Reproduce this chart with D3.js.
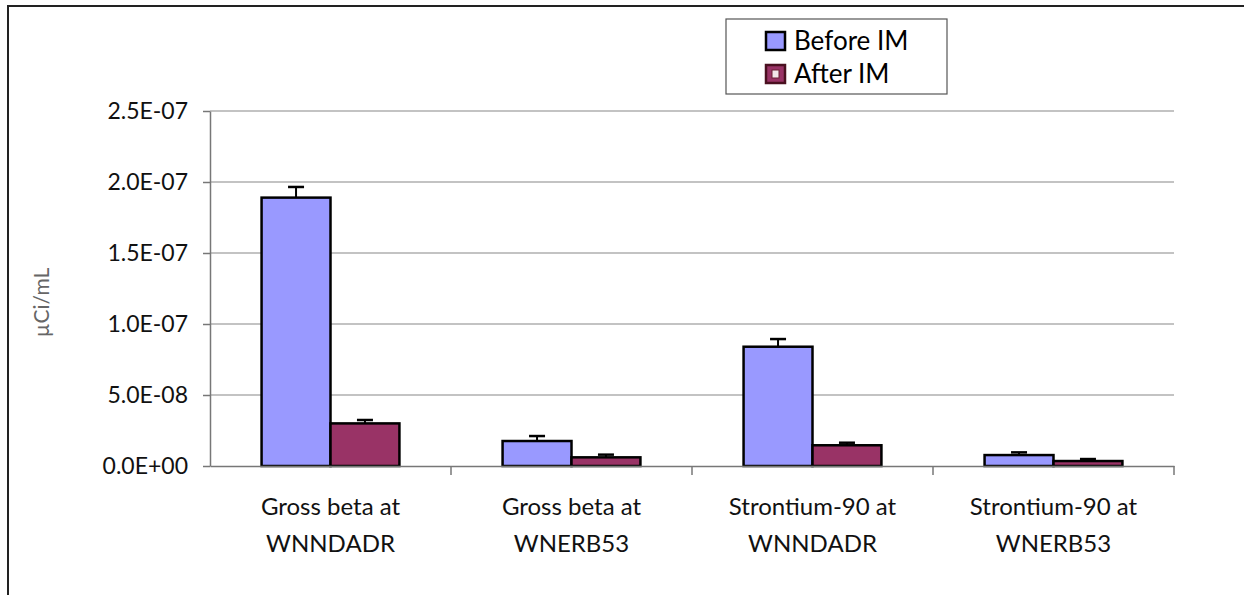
<!DOCTYPE html>
<html>
<head>
<meta charset="utf-8">
<script src="https://cdn.jsdelivr.net/npm/d3@7"></script>
<style>
  body { margin: 0; background: #fff; }
  text { font-family: Lato, "Noto Sans", sans-serif; }
</style>
</head>
<body>
<div id="chart"></div>
<script>
// data
var categories = ["Gross beta at\nWNNDADR", "Gross beta at\nWNERB53", "Strontium-90 at\nWNNDADR", "Strontium-90 at\nWNERB53"];
var seriesNames = ["Before IM", "After IM"];
var beforeValues = [1.89e-7, 1.76e-8, 8.4e-8, 7.7e-9];
var beforeErrors = [7.5e-9, 3.5e-9, 5.4e-9, 1.9e-9];
var afterValues = [3.0e-8, 6.1e-9, 1.46e-8, 3.5e-9];
var afterErrors = [2.4e-9, 1.9e-9, 1.8e-9, 1.4e-9];
var yTicks = [0, 5e-8, 1e-7, 1.5e-7, 2e-7, 2.5e-7];
var yTickLabels = ["0.0E+00", "5.0E-08", "1.0E-07", "1.5E-07", "2.0E-07", "2.5E-07"];

var W = 1244, H = 595;
var margin = {top: 111, right: 70, bottom: 129, left: 210},
    width = W - margin.left - margin.right,
    height = H - margin.top - margin.bottom;

var svg = d3.select("#chart")
  .append("svg")
    .attr("width", W)
    .attr("height", H);

// outer frame (runs off the right and bottom edges)
svg.append("path")
  .attr("d", "M8," + (H + 10) + " L8,6 L" + (W + 10) + ",6")
  .attr("fill", "none")
  .attr("stroke", "#222")
  .attr("stroke-width", 2);

var g = svg.append("g")
  .attr("transform", "translate(" + margin.left + "," + margin.top + ")");

var x = d3.scaleBand()
  .domain(categories)
  .range([0, width]);

var xSub = d3.scaleBand()
  .domain(seriesNames)
  .range([x.bandwidth() * 0.214, x.bandwidth() * 0.786]);

var y = d3.scaleLinear()
  .domain([0, 2.5e-7])
  .range([height, 0]);

var color = d3.scaleOrdinal()
  .domain(seriesNames)
  .range(["#9999FF", "#993366"]);

// gridlines
g.append("g")
  .selectAll("line")
  .data(yTicks.slice(1))
  .enter().append("line")
    .attr("x1", 0)
    .attr("x2", width)
    .attr("y1", function(d) { return y(d); })
    .attr("y2", function(d) { return y(d); })
    .attr("stroke", "#888")
    .attr("stroke-width", 1.2);

// Y axis
var yAxis = g.append("g")
  .call(d3.axisLeft(y)
    .tickValues(yTicks)
    .tickFormat(function(d, i) { return yTickLabels[i]; })
    .tickSize(7)
    .tickSizeOuter(0)
    .tickPadding(15));
yAxis.select(".domain").attr("stroke", "#777").attr("stroke-width", 1.5);
yAxis.selectAll(".tick line").attr("stroke", "#777").attr("stroke-width", 1.5);
yAxis.selectAll("text")
  .attr("font-size", 23)
  .attr("fill", "#111")
  .style("font-family", "Lato, sans-serif");

// bars
var rows = [];
categories.forEach(function(c, i) {
  rows.push({cat: c, series: "Before IM", value: beforeValues[i], err: beforeErrors[i]});
  rows.push({cat: c, series: "After IM", value: afterValues[i], err: afterErrors[i]});
});

var groups = g.selectAll(".bar")
  .data(rows)
  .enter().append("g")
    .attr("class", "bar")
    .attr("transform", function(d) { return "translate(" + (x(d.cat) + xSub(d.series)) + ",0)"; });

// error bars (upper only)
groups.append("line")
  .attr("x1", xSub.bandwidth() / 2)
  .attr("x2", xSub.bandwidth() / 2)
  .attr("y1", function(d) { return y(d.value); })
  .attr("y2", function(d) { return y(d.value + d.err); })
  .attr("stroke", "#000")
  .attr("stroke-width", 2);
groups.append("line")
  .attr("x1", xSub.bandwidth() / 2 - 8)
  .attr("x2", xSub.bandwidth() / 2 + 8)
  .attr("y1", function(d) { return y(d.value + d.err); })
  .attr("y2", function(d) { return y(d.value + d.err); })
  .attr("stroke", "#000")
  .attr("stroke-width", 2.5);

groups.append("rect")
  .attr("x", 0)
  .attr("width", xSub.bandwidth())
  .attr("y", function(d) { return y(d.value); })
  .attr("height", function(d) { return height - y(d.value); })
  .attr("fill", function(d) { return color(d.series); })
  .attr("stroke", "#000")
  .attr("stroke-width", 2.5);

// X axis
var xAxis = g.append("g")
  .attr("transform", "translate(0," + height + ")")
  .call(d3.axisBottom(x).tickSize(0).tickSizeOuter(0).tickFormat(""));
xAxis.select(".domain").attr("stroke", "#777").attr("stroke-width", 1.5);
xAxis.selectAll(".tick").remove();

// category boundary ticks
xAxis.selectAll(".sep")
  .data(categories)
  .enter().append("line")
    .attr("class", "sep")
    .attr("x1", function(d) { return x(d) + x.bandwidth(); })
    .attr("x2", function(d) { return x(d) + x.bandwidth(); })
    .attr("y1", 0)
    .attr("y2", 9)
    .attr("stroke", "#777")
    .attr("stroke-width", 1.5);

// category labels (two lines)
var labels = xAxis.selectAll(".cat")
  .data(categories)
  .enter().append("text")
    .attr("class", "cat")
    .attr("text-anchor", "middle")
    .attr("font-size", 24)
    .attr("fill", "#111")
    .attr("transform", function(d) { return "translate(" + (x(d) + x.bandwidth() / 2) + ",0)"; });
labels.each(function(d) {
  var t = d3.select(this);
  d.split("\n").forEach(function(line, i) {
    t.append("tspan")
      .attr("x", 0)
      .attr("y", 49 + i * 37)
      .text(line);
  });
});

// y axis title
svg.append("text")
  .attr("transform", "translate(49," + (margin.top + height / 2 + 14) + ") rotate(-90)")
  .attr("text-anchor", "middle")
  .attr("font-size", 21)
  .attr("fill", "#666")
  .text("µCi/mL");

// legend
var legend = svg.append("g").attr("transform", "translate(726,19)");
legend.append("rect")
  .attr("width", 221)
  .attr("height", 75)
  .attr("fill", "#fff")
  .attr("stroke", "#555")
  .attr("stroke-width", 1.2);

var items = legend.selectAll(".item")
  .data(seriesNames)
  .enter().append("g")
    .attr("class", "item")
    .attr("transform", function(d, i) { return "translate(40," + (13 + i * 33) + ")"; });
items.append("rect")
  .attr("width", 19)
  .attr("height", 18)
  .attr("fill", function(d) { return color(d); })
  .attr("stroke", function(d, i) { return i === 0 ? "#000" : "#4a1020"; })
  .attr("stroke-width", 2.5);
// the pattern-looking mark inside the After IM swatch
items.filter(function(d, i) { return i === 1; })
  .append("rect")
    .attr("x", 6)
    .attr("y", 5)
    .attr("width", 7)
    .attr("height", 8)
    .attr("fill", "#f2e6ea")
    .attr("stroke", "#6a2035")
    .attr("stroke-width", 1);
items.append("text")
  .attr("x", 28)
  .attr("y", 18)
  .attr("font-size", 26)
  .attr("fill", "#000")
  .text(function(d) { return d; });
</script>
</body>
</html>
